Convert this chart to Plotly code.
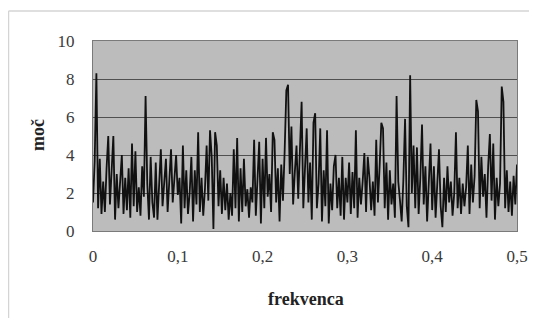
import numpy as np
import plotly.graph_objects as go

# periodogram power values, step 0.002 in frequency from 0 to 0.5
power = [
    1.5, 3.7, 8.3, 1.2, 3.8, 0.9, 2.6, 1.0, 3.3, 5.0,
    1.4, 3.5, 5.0, 0.6, 3.0, 1.2, 2.5, 4.0, 0.9, 2.8,
    1.1, 3.3, 0.7, 4.6, 1.3, 4.2, 1.0, 2.3, 0.8, 3.4,
    1.8, 7.1, 2.5, 0.6, 3.9, 1.5, 0.7, 3.6, 0.6, 2.2,
    4.3, 1.3, 2.8, 3.8, 1.0, 2.4, 4.3, 1.5, 3.1, 4.0,
    1.9, 2.8, 0.4, 4.5, 1.2, 3.2, 0.9, 2.0, 3.9, 0.5,
    3.2, 1.4, 5.2, 1.0, 2.8, 0.8, 2.2, 4.5, 1.6, 5.3,
    3.9, 0.1, 5.2, 4.5, 1.3, 3.2, 0.9, 2.8, 1.1, 2.5,
    0.6, 2.0, 0.8, 4.3, 1.2, 4.9, 0.5, 3.3, 1.0, 3.8,
    1.3, 2.2, 0.7, 2.3, 1.5, 4.8, 0.8, 2.6, 4.7, 0.4,
    3.8, 1.2, 4.9, 1.8, 3.0, 1.0, 5.2, 4.8, 1.5, 3.3,
    0.5, 3.5, 1.6, 4.2, 7.4, 7.7, 3.0, 5.5, 1.4, 3.1,
    4.5, 1.7, 4.4, 6.8, 1.2, 3.8, 5.4, 1.5, 3.6, 0.6,
    5.7, 6.2, 1.2, 2.5, 5.4, 0.5, 3.2, 1.3, 5.3, 0.4,
    2.5, 1.1, 3.4, 4.0, 1.2, 2.8, 0.8, 3.9, 0.6, 2.8,
    1.5, 3.6, 0.9, 3.1, 1.2, 5.3, 0.7, 2.8, 1.4, 2.6,
    4.1, 1.0, 3.9, 2.8, 1.1, 2.6, 0.8, 4.8, 1.5, 3.4,
    5.7, 5.4, 1.2, 3.6, 0.6, 3.2, 1.4, 2.5, 0.7, 7.1,
    2.6, 1.6, 0.5, 2.7, 5.9, 1.3, 0.2, 8.2, 2.0, 4.5,
    1.2, 4.4, 0.9, 2.8, 5.6, 1.4, 3.4, 0.5, 2.5, 4.6,
    1.1, 3.4, 0.7, 2.2, 4.3, 1.3, 0.2, 2.8, 1.0, 3.4,
    1.5, 2.6, 0.8, 2.0, 5.2, 1.2, 2.8, 0.9, 2.5, 1.3,
    2.3, 4.5, 0.9, 3.5, 1.5, 2.9, 6.9, 6.3, 1.2, 3.9,
    1.8, 3.0, 0.7, 3.4, 5.1, 1.6, 4.6, 0.6, 2.8, 1.3,
    2.5, 7.6, 6.8, 1.2, 3.2, 1.0, 2.6, 0.8, 2.9, 1.4, 3.5,
]
frequency = np.linspace(0.0, 0.5, len(power))

x_ticks = [0, 0.1, 0.2, 0.3, 0.4, 0.5]
x_tick_labels = ["0", "0,1", "0,2", "0,3", "0,4", "0,5"]
y_ticks = [0, 2, 4, 6, 8, 10]
y_tick_labels = ["0", "2", "4", "6", "8", "10"]
x_title = "frekvenca"
y_title = "moč"

serif = "Liberation Serif"

fig = go.Figure()
fig.add_trace(go.Scatter(
    x=frequency, y=power, mode="lines",
    line=dict(color="#111111", width=1.8),
    showlegend=False, hoverinfo="skip",
))

fig.update_layout(
    width=521, height=310, autosize=False,
    margin=dict(l=85, r=12, t=33, b=87),
    paper_bgcolor="white",
    plot_bgcolor="#bcbcbc",
    font=dict(family=serif, size=17, color="#3a3a3a"),
    xaxis=dict(
        range=[0, 0.5], tickvals=x_ticks, ticktext=x_tick_labels,
        tickfont=dict(family=serif, size=17, color="#3a3a3a"),
        showgrid=False, zeroline=False, automargin=False,
        showline=True, linecolor="#7a7a7a", linewidth=1, mirror=True,
        ticks="outside", ticklen=10, tickcolor="rgba(0,0,0,0)",
    ),
    yaxis=dict(
        range=[0, 10], tickvals=y_ticks, ticktext=y_tick_labels,
        tickfont=dict(family=serif, size=17, color="#3a3a3a"),
        showgrid=True, gridcolor="#505050", gridwidth=1,
        zeroline=False, automargin=False,
        showline=True, linecolor="#7a7a7a", linewidth=1, mirror=True,
        ticks="outside", ticklen=14, tickcolor="rgba(0,0,0,0)",
    ),
    annotations=[
        dict(text="<b>" + x_title + "</b>", xref="paper", yref="paper",
             x=0.502, y=-0.358, showarrow=False,
             font=dict(family=serif, size=18, color="#222222"),
             xanchor="center", yanchor="middle"),
        dict(text="<b>" + y_title + "</b>", xref="paper", yref="paper",
             x=-0.13, y=0.505, showarrow=False, textangle=-90,
             font=dict(family=serif, size=18, color="#222222"),
             xanchor="center", yanchor="middle"),
    ],
    shapes=[
        dict(type="line", xref="paper", yref="paper",
             x0=-0.1993, x1=1.06, y0=1.158, y1=1.158,
             line=dict(color="#d4d4d4", width=1.5)),
        dict(type="line", xref="paper", yref="paper",
             x0=-0.1993, x1=-0.1993, y0=1.158, y1=-0.52,
             line=dict(color="#d4d4d4", width=1.5)),
    ],
)

fig.write_html("out.html")
